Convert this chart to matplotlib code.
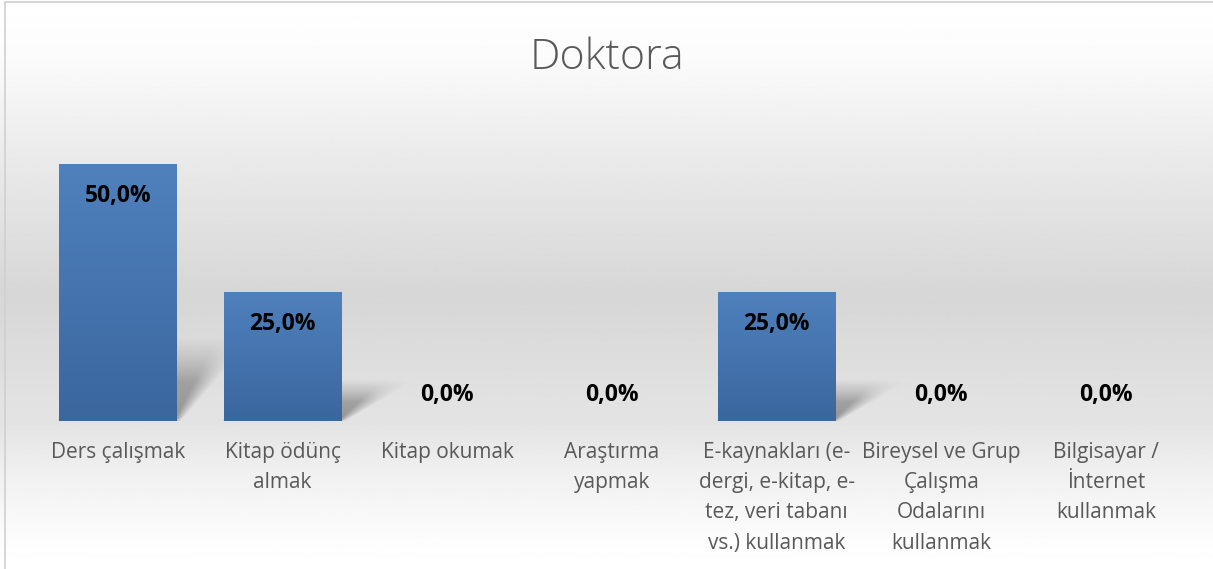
import numpy as np
import matplotlib
matplotlib.use("Agg")
import matplotlib.pyplot as plt
from matplotlib.patches import Rectangle
from matplotlib.colors import LinearSegmentedColormap

# data
categories = ["Ders çalışmak", "Kitap ödünç\nalmak", "Kitap okumak",
              "Araştırma\nyapmak",
              "E-kaynakları (e-\ndergi, e-kitap, e-\ntez, veri tabanı\nvs.) kullanmak",
              "Bireysel ve Grup\nÇalışma\nOdalarını\nkullanmak",
              "Bilgisayar /\nİnternet\nkullanmak"]
values = [0.50, 0.25, 0.0, 0.0, 0.25, 0.0, 0.0]
title = "Doktora"

plt.rcParams['font.family'] = ['Open Sans', 'DejaVu Sans']

fig = plt.figure(figsize=(12.13, 5.69), dpi=100)

# background gradient over whole figure
bg = fig.add_axes([0, 0, 1, 1], zorder=0)
ys = np.linspace(0, 1, 400)
stops = [0.0, 0.1, 0.27, 0.52, 0.75, 0.83, 0.95, 1.0]
greys = [1.0, 0.985, 0.92, 0.84, 0.895, 0.94, 0.99, 1.0]
col = np.interp(ys, stops, greys)
img = np.repeat(col[:, None], 2, axis=1)
bg.imshow(img, cmap='gray', vmin=0, vmax=1, aspect='auto',
          extent=[0, 1, 0, 1], origin='upper')
bg.add_patch(Rectangle((0.004, -0.01), 1.1, 1.006, fill=False,
                       edgecolor='#d0d0d0', lw=1.2, transform=bg.transAxes))
bg.set_xlim(0, 1)
bg.set_ylim(0, 1)
bg.axis('off')

ax = fig.add_axes([0.0293, 0.260, 0.9505, 0.540], zorder=1)
ax.patch.set_alpha(0)

x = np.arange(len(values))
w = 0.715
xmin, xmax = -0.5, len(values) - 0.5
ymax = 0.6

# soft perspective shadow, drawn as one alpha image
gx = np.linspace(xmin, xmax, 1400)
gy = np.linspace(-0.01, 0.22, 300)
X, Y = np.meshgrid(gx, gy)
A = np.zeros_like(X)
for xi, v in zip(x, values):
    if v <= 0:
        continue
    sh = v * 0.25
    dx = 0.27
    t = np.clip(Y / sh, 0, 2)
    shift = dx * t
    left = xi - w / 2 + shift
    right = xi + w / 2 + shift
    s = 0.04 + 0.14 * t
    mx = np.clip((X - left) / s + 0.5, 0, 1) * np.clip((right - X) / s + 0.5, 0, 1)
    my = np.clip((1.3 - t) / 0.7, 0, 1) * np.clip((Y + 0.008) / 0.012, 0, 1)
    A = np.maximum(A, 0.35 * mx * my * (1 - 0.3 * np.clip(t, 0, 1)))
rgba = np.zeros(X.shape + (4,))
rgba[..., 3] = A
ax.imshow(rgba, origin='lower', aspect='auto',
          extent=[xmin, xmax, -0.01, 0.22], zorder=1, interpolation='bilinear')

bar_cmap = LinearSegmentedColormap.from_list('b', ['#3b669e', '#4f81bd'])
grad = np.linspace(0, 1, 100)[:, None]
for xi, v in zip(x, values):
    if v <= 0:
        continue
    ax.imshow(grad, cmap=bar_cmap, aspect='auto', origin='lower',
              extent=[xi - w / 2, xi + w / 2, 0, v], zorder=2)

ax.set_xlim(xmin, xmax)
ax.set_ylim(0, ymax)

for xi, v in zip(x, values):
    lbl = "{:.1f}%".format(v * 100).replace('.', ',')
    off = -22.5 if v > 0 else 19
    ax.annotate(lbl, xy=(xi, v), xytext=(0, off),
                textcoords='offset points', ha='center', va='center',
                fontsize=16.5, fontweight='bold', color='black', zorder=3)

ax.set_xticks(x)
ax.set_xticklabels(categories, fontsize=15, color='#595959', linespacing=1.58)
ax.tick_params(axis='x', length=0, pad=15)
ax.set_yticks([])
for s in ax.spines.values():
    s.set_visible(False)

fig.text(0.5, 0.899, title, ha='center', va='center', fontsize=31,
         color='#595959', fontweight='light')

fig.savefig('out.png', dpi=100)
